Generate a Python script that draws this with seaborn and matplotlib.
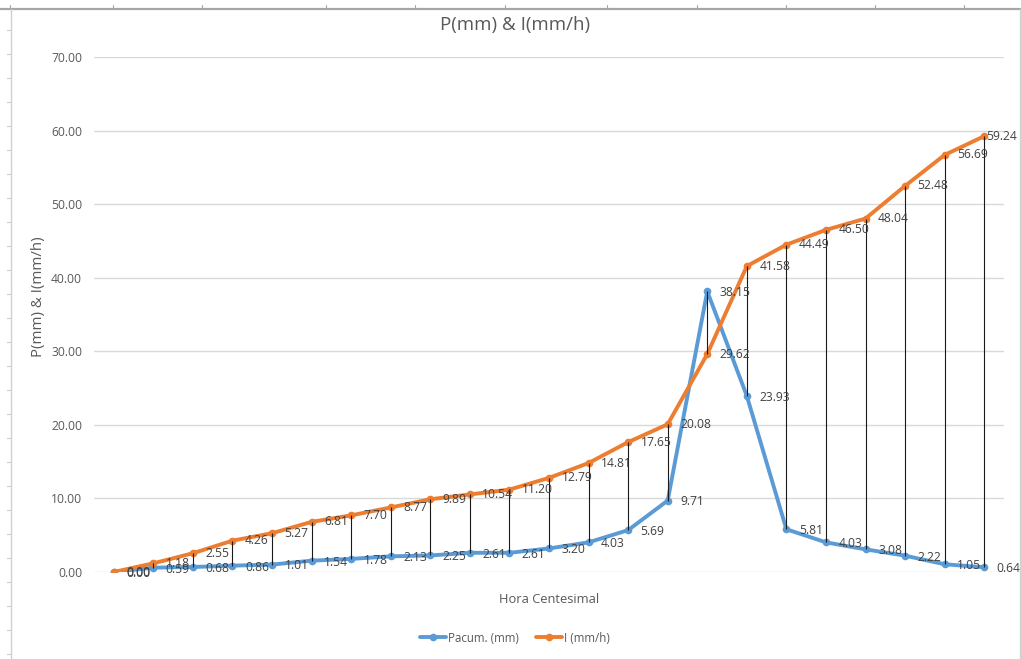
import numpy as np
import pandas as pd
import matplotlib
matplotlib.use("Agg")
import matplotlib.pyplot as plt
from matplotlib.lines import Line2D
import seaborn as sns

# Hourly precipitation data
horas = list(range(1, 24))
p_acum = [0.00, 0.59, 0.68, 0.86, 1.01, 1.54, 1.78, 2.13, 2.25, 2.61, 2.61, 3.20,
          4.03, 5.69, 9.71, 38.15, 23.93, 5.81, 4.03, 3.08, 2.22, 1.05, 0.64]
intensidad = [0.00, 1.18, 2.55, 4.26, 5.27, 6.81, 7.70, 8.77, 9.89, 10.54, 11.20, 12.79,
              14.81, 17.65, 20.08, 29.62, 41.58, 44.49, 46.50, 48.04, 52.48, 56.69, 59.24]
series_names = ["Pacum. (mm)", "I (mm/h)"]
y_ticks = [0, 10, 20, 30, 40, 50, 60, 70]

BLUE = "#5B9BD5"
ORANGE = "#ED7D31"
TXT = "#595959"
LBL = "#404040"

sns.set_theme(style="white")
plt.rcParams["font.family"] = ["Open Sans", "DejaVu Sans"]

pos = np.arange(len(horas))
df = pd.DataFrame({
    "pos": np.concatenate([pos, pos]),
    "valor": p_acum + intensidad,
    "serie": [series_names[0]] * len(horas) + [series_names[1]] * len(horas),
})

fig = plt.figure(figsize=(10.21, 6.59), dpi=100)
W, H = 1021, 659
ax = fig.add_axes([94 / W, 87 / H, 910 / W, 515 / H])

# Spreadsheet frame around the chart
fig.add_artist(Line2D([0, 1], [1 - 9 / H, 1 - 9 / H], transform=fig.transFigure,
                      color="#a6a6a6", lw=1.6))
for xc in [10, 113, 202, 326, 415, 505, 607, 697, 786, 875, 964]:
    fig.add_artist(Line2D([xc / W, xc / W], [1 - 5 / H, 1 - 9 / H],
                          transform=fig.transFigure, color="#a6a6a6", lw=0.8))
fig.add_artist(Line2D([11 / W, 11 / W], [0, 1 - 9 / H], transform=fig.transFigure,
                      color="#d0d0d0", lw=1.0))
fig.add_artist(Line2D([1019.5 / W, 1019.5 / W], [0, 1 - 9 / H], transform=fig.transFigure,
                      color="#d0d0d0", lw=1.0))
for yc in range(30, 659, 24):
    fig.add_artist(Line2D([7 / W, 11 / W], [1 - yc / H, 1 - yc / H],
                          transform=fig.transFigure, color="#d0d0d0", lw=0.8))

# Gridlines
for t in y_ticks:
    ax.axhline(t, color="#d9d9d9", lw=1.0, zorder=0)

sns.lineplot(data=df, x="pos", y="valor", hue="serie", palette=[BLUE, ORANGE],
             marker="o", markersize=5.5, markeredgewidth=0, linewidth=2.8,
             ax=ax, legend=False, zorder=3)

# High-low lines between the two series
lo = np.minimum(p_acum, intensidad)
hi = np.maximum(p_acum, intensidad)
ax.vlines(pos, lo, hi, color="#1a1a1a", lw=0.8, zorder=4)

# Data labels
for x, v in zip(pos, p_acum):
    ax.annotate(f"{v:.2f}", (x, v), xytext=(9, -1), textcoords="offset points",
                ha="left", va="center", fontsize=8.7, color=LBL, zorder=5)
for x, v in zip(pos, intensidad):
    off = 1.5 if x == pos[-1] else 9
    ax.annotate(f"{v:.2f}", (x, v), xytext=(off, 0), textcoords="offset points",
                ha="left", va="center", fontsize=8.7, color=LBL, zorder=5)

ax.set_xlim(-0.5, len(horas) - 0.5)
ax.set_ylim(0, 70)
ax.set_yticks(y_ticks)
ax.set_yticklabels([f"{t:.2f}" for t in y_ticks], fontsize=8.7, color=TXT)
ax.set_xticks([])
ax.tick_params(axis="y", length=0, pad=8.6)
for s in ax.spines.values():
    s.set_visible(False)

ax.set_xlabel("Hora Centesimal", fontsize=9.3, color=TXT)
ax.set_ylabel("P(mm) & I(mm/h)", fontsize=10.8, color=TXT)
ax.yaxis.set_label_coords(-0.053, 0.535)
ax.xaxis.set_label_coords(0.5, -0.04)

fig.text(515 / W, 1 - 25 / H, "P(mm) & I(mm/h)", ha="center", va="center",
         fontsize=13.5, color=TXT)

handles = [Line2D([], [], color=BLUE, lw=2.8, marker="o", markersize=5.5, markeredgewidth=0),
           Line2D([], [], color=ORANGE, lw=2.8, marker="o", markersize=5.5, markeredgewidth=0)]
fig.legend(handles, series_names, loc="center", bbox_to_anchor=(515 / W, 1 - 638 / H),
           ncol=2, frameon=False, fontsize=8.3, labelcolor=TXT, handlelength=2.2,
           handletextpad=0.2, columnspacing=1.5)

fig.savefig("out.png", dpi=100, facecolor="white")
